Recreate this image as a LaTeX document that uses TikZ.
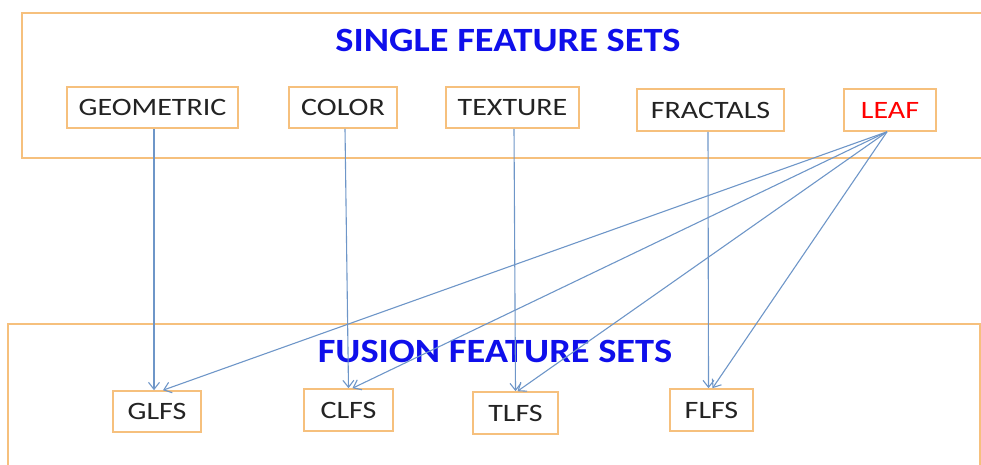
\documentclass[tikz,border=0pt]{standalone}
\usepackage{fontspec}
\setmainfont{Carlito}
\newfontfamily\labelfont[FakeStretch=1.2]{Carlito}
\newfontfamily\titlefont[FakeStretch=1.13]{Carlito}
\usetikzlibrary{arrows.meta}
\definecolor{boxorange}{RGB}{246,192,125}
\definecolor{linkblue}{RGB}{110,150,200}
\definecolor{titleblue}{RGB}{15,15,235}
\definecolor{labelgrey}{RGB}{35,35,35}
\begin{document}
\begin{tikzpicture}[x=1pt,y=-1pt,
  feat/.style={draw=boxorange,line width=1.6pt,fill=white,inner sep=0pt,
    font=\labelfont\fontsize{25}{25}\selectfont,text=labelgrey},
  grp/.style={draw=boxorange,line width=1.4pt},
  title/.style={font=\titlefont\fontsize{34}{34}\selectfont\bfseries,text=titleblue,inner sep=0pt},
  link/.style={draw=linkblue,line width=1.1pt,-{Straight Barb[length=7pt,width=11pt]}}]
\useasboundingbox (0,0) rectangle (981,465);
% group frames
\draw[grp] (995,13) -- (22,13) -- (22,158) -- (995,158);
\draw[grp] (8,480) -- (8,324) -- (980,324) -- (980,480);
% titles
\node[title] (stitle) at (508,40) {SINGLE FEATURE SETS};
\node[title] (ftitle) at (495,351) {FUSION FEATURE SETS};
% single feature sets
\node[feat,minimum width=171pt,minimum height=41pt] (geo) at (152.5,107.5) {GEOMETRIC};
\node[feat,minimum width=108pt,minimum height=41pt] (col) at (343,107.5) {COLOR};
\node[feat,minimum width=133pt,minimum height=41pt] (tex) at (512.5,107.5) {TEXTURE};
\node[feat,minimum width=147pt,minimum height=42pt] (fra) at (710.5,110) {FRACTALS};
\node[feat,minimum width=92pt,minimum height=42pt,text=red] (leaf) at (890,110) {LEAF};
% fusion feature sets
\node[feat,minimum width=88pt,minimum height=41pt] (glfs) at (157,411.5) {GLFS};
\node[feat,minimum width=89pt,minimum height=42pt] (clfs) at (348.5,410) {CLFS};
\node[feat,minimum width=85pt,minimum height=42pt] (tlfs) at (515.5,413) {TLFS};
\node[feat,minimum width=83pt,minimum height=42pt] (flfs) at (711.5,410) {FLFS};
% connectors
\draw[link] (geo.south -| 154,0) -- (glfs.north -| 154,0);
\draw[link] ([xshift=2pt]col.south) -- (clfs.north);
\draw[link] ([xshift=1.5pt]tex.south) -- (tlfs.north);
\draw[link] ([xshift=-2.5pt]fra.south) -- ([xshift=-3pt]flfs.north);
\draw[link] ([xshift=-3pt]leaf.south) -- ([xshift=6pt]glfs.north);
\draw[link] ([xshift=-3pt]leaf.south) -- ([xshift=4pt]clfs.north);
\draw[link] ([xshift=-3pt]leaf.south) -- ([xshift=2pt]tlfs.north);
\draw[link] ([xshift=-3pt]leaf.south) -- ([xshift=1pt]flfs.north);
\end{tikzpicture}
\end{document}
